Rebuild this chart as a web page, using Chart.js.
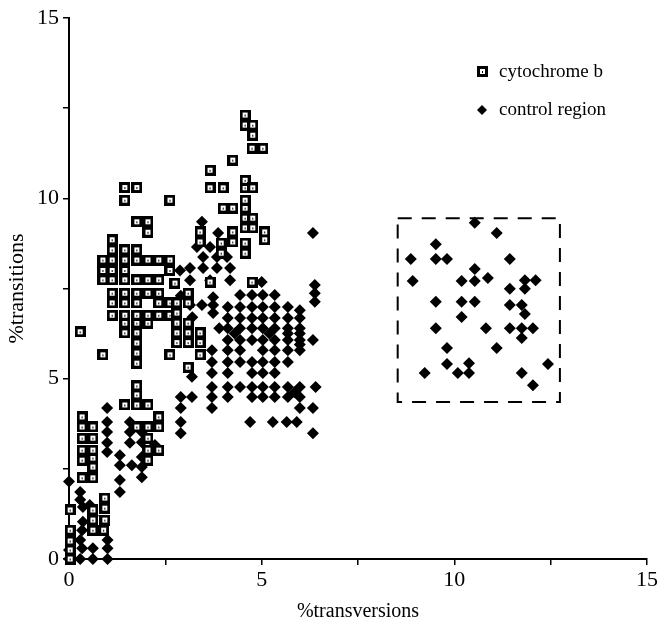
<!DOCTYPE html>
<html>
<head>
<meta charset="utf-8">
<script src="https://cdn.jsdelivr.net/npm/chart.js@4"></script>
<style>
  body { margin: 0; background: #fff; }
  canvas { display: block; }
</style>
</head>
<body>
<canvas id="chart" width="669" height="629"></canvas>
<script>
// cytochrome b pairwise comparisons [%transversions, %transitions]
const cytbPoints = [
  [0.03,0],[0.03,0.25],[0.03,0.5],[0.03,0.8],[0.03,1.36],
  [0.34,2.25],[0.34,2.74],[0.34,3.02],[0.34,3.35],[0.34,3.66],[0.34,3.94],
  [0.62,0.8],[0.62,1.08],[0.62,1.36],[0.62,2.25],[0.62,2.55],[0.62,2.8],[0.62,3.02],[0.62,3.35],[0.62,3.66],
  [0.9,0.8],[0.93,1.08],[0.93,1.41],[0.93,1.69],
  [1.45,4.27],[1.76,3.66],[1.76,4.27],[1.76,4.55],[1.76,4.8],
  [2.05,2.74],[2.05,3.02],[2.05,3.35],[2.05,3.66],[2.05,4.27],
  [2.33,3.02],[2.33,3.66],[2.33,3.94],
  [0.29,6.3],[0.88,5.66],[0.88,7.74],[0.88,8.0],[0.88,8.29],
  [1.12,6.76],[1.12,7.1],[1.12,7.37],[1.12,7.74],[1.12,8.0],[1.12,8.29],[1.12,8.57],[1.12,8.85],
  [1.45,6.27],[1.45,6.54],[1.45,6.76],[1.45,7.1],[1.45,7.37],[1.45,7.74],[1.45,8.0],[1.45,8.29],[1.45,8.57],[1.45,9.95],[1.45,10.3],
  [1.76,5.43],[1.76,5.71],[1.76,5.99],[1.76,6.27],[1.76,6.54],[1.76,6.76],[1.76,7.1],[1.76,7.37],[1.76,7.74],[1.76,8.29],[1.76,8.57],[1.76,9.35],[1.76,10.3],
  [2.05,6.54],[2.05,6.76],[2.05,7.37],[2.05,7.74],[2.05,8.29],[2.05,9.06],[2.05,9.35],
  [2.33,6.76],[2.33,7.1],[2.33,7.37],[2.33,7.74],[2.33,8.29],
  [2.62,5.66],[2.62,6.76],[2.62,7.1],[2.62,8.0],[2.62,8.29],[2.62,9.95],
  [2.75,7.65],[2.8,6.0],[2.8,6.27],[2.8,6.54],[2.8,6.82],[2.8,7.1],
  [3.09,5.32],[3.09,6.0],[3.09,6.27],[3.09,6.54],[3.09,7.1],[3.09,7.37],
  [3.4,5.66],[3.4,6.0],[3.4,6.27],[3.4,8.79],[3.4,9.07],
  [3.66,7.68],[3.66,10.29],[3.66,10.78],
  [3.95,8.48],[3.95,8.76],[4.0,9.73],[4.0,10.29],
  [4.25,8.79],[4.25,9.07],[4.25,9.73],[4.25,11.06],
  [4.57,8.48],[4.57,8.76],[4.57,9.18],[4.57,9.45],[4.57,9.73],[4.57,9.95],[4.57,10.29],[4.57,10.5],[4.57,12.03],[4.57,12.31],
  [4.75,7.68],[4.77,9.18],[4.77,9.45],[4.77,10.29],[4.77,11.75],[4.77,12.03],[4.75,11.39],[5.03,11.39],
  [5.08,8.85],[5.08,9.07]
];

// control region comparisons
const controlPoints = [
  [0,0],[0,0.25],[0,2.15],[0.29,0],[0.29,0.53],[0.34,0.3],[0.34,0.8],[0.36,1.03],[0.36,1.44],[0.29,1.64],[0.29,1.86],
  [0.54,1.5],[0.62,0],[0.62,0.3],[0.62,1.2],[1.0,0],[1.0,0.3],[1.0,0.53],
  [0.99,2.97],[0.99,3.22],[0.99,3.52],[0.99,3.8],[0.99,4.19],
  [1.32,1.86],[1.32,2.19],[1.32,2.6],[1.32,2.88],[1.63,2.6],
  [1.58,3.22],[1.58,3.52],[1.58,3.8],
  [1.89,2.27],[1.89,2.55],[1.89,2.83],[1.89,3.24],[1.89,3.52],[2.23,3.16],
  [2.9,3.49],[2.9,3.8],[2.9,4.19],[2.9,4.49],[3.19,4.49],[3.19,5.05],
  [3.71,4.19],[3.71,4.49],[3.71,4.77],[3.71,5.16],[3.71,5.46],[3.71,5.79],
  [2.88,8.0],[2.9,7.3],[3.14,7.04],[3.2,6.7],[3.45,7.04],[3.74,6.82],[3.74,7.04],[3.74,7.26],
  [3.14,7.73],[3.66,7.73],[4.18,7.73],[3.14,8.07],[3.48,8.07],[3.84,8.07],[4.18,8.07],
  [3.48,8.37],[3.84,8.37],[4.1,8.37],[3.32,8.65],[3.66,8.65],[3.87,9.04],[3.45,9.35],
  [5.0,7.68],[6.33,9.04],[6.38,7.6],[6.38,7.37],[6.38,7.13],
  [4.44,7.32],[4.75,7.32],[5.03,7.32],[5.34,7.32],
  [4.12,6.99],[4.44,6.99],[4.75,6.99],[5.03,6.99],[5.34,6.99],[5.68,6.99],
  [4.12,6.68],[4.44,6.68],[4.75,6.68],[5.03,6.68],[5.34,6.68],[5.68,6.68],[5.99,6.68],[5.99,6.9],
  [3.9,6.4],[4.12,6.4],[4.44,6.4],[4.75,6.4],[5.03,6.4],[5.34,6.4],[5.68,6.4],[5.99,6.4],
  [4.3,6.25],[5.2,6.25],[5.68,6.25],[5.99,6.25],
  [4.12,6.07],[4.44,6.07],[4.75,6.07],[5.03,6.07],[5.34,6.07],[5.68,6.07],[5.99,6.07],[6.33,6.07],
  [4.12,5.79],[4.44,5.79],[5.03,5.79],[5.34,5.79],[5.68,5.79],[5.99,5.79],[5.99,5.95],
  [4.12,5.46],[4.44,5.46],[4.75,5.46],[5.03,5.46],[5.34,5.46],[5.68,5.46],
  [4.12,5.16],[4.75,5.16],[5.03,5.16],[5.34,5.16],
  [4.12,4.77],[4.44,4.77],[4.75,4.77],[5.03,4.77],[5.34,4.77],[5.68,4.77],[5.99,4.77],[6.4,4.77],
  [4.12,4.49],[4.75,4.49],[5.03,4.49],[5.34,4.49],[5.68,4.49],[5.99,4.49],[5.85,4.62],
  [5.99,4.19],[6.33,4.19],
  [4.7,3.8],[5.29,3.8],[5.65,3.8],[5.91,3.8],[6.33,3.49]
];

// the separate control-region group inside the dashed box
const controlOutliers = [
  [10.53,9.32],[11.1,9.04],[9.52,8.73],[8.87,8.32],[9.52,8.32],[9.81,8.32],[11.44,8.32],[10.53,8.04],
  [8.92,7.71],[10.19,7.71],[10.53,7.71],[10.87,7.79],[11.83,7.73],[12.11,7.73],[11.44,7.49],[11.83,7.49],
  [9.52,7.13],[10.19,7.13],[10.53,7.13],[11.44,7.04],[11.75,7.04],[11.83,6.79],[10.19,6.71],
  [9.52,6.4],[10.82,6.4],[11.44,6.4],[11.75,6.4],[12.04,6.4],[11.75,6.13],
  [9.81,5.85],[11.1,5.85],[9.81,5.41],[10.38,5.43],[10.38,5.16],[10.09,5.16],[9.23,5.16],
  [11.75,5.16],[12.43,5.41],[12.04,4.82]
];

const seriesNames = ['cytochrome b', 'control region'];
const tickLabels = [0, 5, 10, 15];
const boxX = [8.53, 12.74];
const boxY = [4.35, 9.45];

const serif = "'Liberation Serif', 'DejaVu Serif', serif";

// hollow square marker with a dot
function squareMarker() {
  const c = document.createElement('canvas');
  c.width = 11; c.height = 11;
  const g = c.getContext('2d');
  g.fillStyle = '#000'; g.fillRect(0, 0, 11, 11);
  g.fillStyle = '#fff'; g.fillRect(3, 3, 5, 5);
  g.fillStyle = '#000'; g.fillRect(5, 5, 1, 2);
  return c;
}
const sqImg = squareMarker();

const toXY = arr => arr.map(p => ({ x: p[0], y: p[1] }));

const extras = {
  id: 'extras',
  afterDatasetsDraw(chart) {
    const { ctx, scales: { x, y } } = chart;
    ctx.save();
    // dashed box
    ctx.strokeStyle = '#000';
    ctx.lineWidth = 2;
    ctx.setLineDash([14, 10]);
    ctx.strokeRect(x.getPixelForValue(boxX[0]), y.getPixelForValue(boxY[1]),
      x.getPixelForValue(boxX[1]) - x.getPixelForValue(boxX[0]),
      y.getPixelForValue(boxY[0]) - y.getPixelForValue(boxY[1]));
    ctx.setLineDash([]);
    // legend
    ctx.drawImage(sqImg, 477, 66, 11, 11);
    ctx.fillStyle = '#000';
    ctx.beginPath();
    ctx.moveTo(482, 105); ctx.lineTo(487, 110); ctx.lineTo(482, 115); ctx.lineTo(477, 110);
    ctx.closePath(); ctx.fill();
    ctx.font = '19px ' + serif;
    ctx.textBaseline = 'middle';
    ctx.fillText(seriesNames[0], 499, 72);
    ctx.fillText(seriesNames[1], 499, 110);
    ctx.restore();
  }
};

const axisCommon = {
  type: 'linear',
  min: 0,
  max: 15,
  grid: { drawOnChartArea: false, drawTicks: true, tickLength: 6, color: '#000', lineWidth: 1.5 },
  border: { color: '#000', width: 2 },
  ticks: {
    stepSize: 2.5,
    autoSkip: false,
    color: '#000',
    font: { family: serif, size: 22 },
    callback: v => tickLabels.includes(v) ? v : ''
  }
};

new Chart(document.getElementById('chart'), {
  type: 'scatter',
  data: {
    datasets: [
      { label: seriesNames[0], data: toXY(cytbPoints), pointStyle: sqImg, clip: false },
      { label: seriesNames[1], data: toXY(controlPoints.concat(controlOutliers)),
        pointStyle: 'rectRot', pointRadius: 6, backgroundColor: '#000', borderColor: '#000', borderWidth: 0, clip: false }
    ]
  },
  options: {
    responsive: false,
    animation: false,
    layout: { padding: { top: 18, right: 22, left: 0, bottom: 0 } },
    plugins: { legend: { display: false }, tooltip: { enabled: false } },
    scales: {
      x: {
        ...axisCommon,
        ticks: { ...axisCommon.ticks, padding: 2 },
        title: { display: true, text: '%transversions', color: '#000', font: { family: serif, size: 20 }, padding: 5 },
        afterFit(s) { s.height = 70; }
      },
      y: {
        ...axisCommon,
        ticks: { ...axisCommon.ticks, padding: 4 },
        title: { display: true, text: '%transitions', color: '#000', font: { family: serif, size: 22 }, padding: 4 },
        afterFit(s) { s.width = 69; }
      }
    }
  },
  plugins: [extras]
});
</script>
</body>
</html>
